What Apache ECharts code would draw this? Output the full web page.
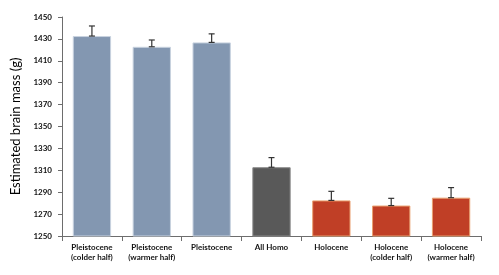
<!DOCTYPE html>
<html>
<head>
<meta charset="utf-8">
<script src="https://cdn.jsdelivr.net/npm/echarts@6/dist/echarts.min.js"></script>
<style>
  html, body { margin: 0; padding: 0; background: #fff; }
  #chart { width: 499px; height: 275px; }
</style>
</head>
<body>
<div id="chart"></div>
<script>
// categories and values
const categories = ['Pleistocene\n(colder half)', 'Pleistocene\n(warmer half)', 'Pleistocene', 'All Homo', 'Holocene', 'Holocene\n(colder half)', 'Holocene\n(warmer half)'];
const brainMass = [1432.6, 1422.8, 1426.8, 1312.8, 1282.5, 1277.8, 1285.0];
const errPlus = [9.2, 6.2, 7.8, 8.8, 8.3, 6.6, 9.2];
const groups = ['pleis', 'pleis', 'pleis', 'all', 'holo', 'holo', 'holo'];

const fills = { pleis: '#8397b1', all: '#595959', holo: '#c03f26' };
const borders = { pleis: '#c9d3e0', all: '#8a8a8a', holo: '#e9a070' };

const chart = echarts.init(document.getElementById('chart'));

const barData = brainMass.map(function (v, i) {
  return {
    value: v,
    itemStyle: { color: fills[groups[i]], borderColor: borders[groups[i]], borderWidth: 1 }
  };
});

const errData = brainMass.map(function (v, i) { return [i, v, v + errPlus[i]]; });

chart.setOption({
  animation: false,
  grid: { left: 62, right: 18, top: 17, bottom: 39 },
  xAxis: {
    type: 'category',
    data: categories,
    axisLine: { lineStyle: { color: '#6d6d6d', width: 1 } },
    axisTick: { show: true, length: 5, lineStyle: { color: '#6d6d6d' } },
    axisLabel: {
      color: '#111', fontSize: 8, fontWeight: 'bold', fontFamily: 'Lato',
      lineHeight: 10, margin: 6, interval: 0
    }
  },
  yAxis: {
    type: 'value',
    min: 1250, max: 1450, interval: 20,
    name: 'Estimated brain mass (g)',
    nameLocation: 'middle',
    nameGap: 37,
    nameTextStyle: { fontSize: 13, color: '#000', fontFamily: 'Lato' },
    axisLine: { show: true, lineStyle: { color: '#6d6d6d' } },
    axisTick: { show: true, length: 4, lineStyle: { color: '#6d6d6d' } },
    splitLine: { show: false },
    axisLabel: {
      color: '#111', fontSize: 8, fontWeight: 'bold', fontFamily: 'Lato', margin: 10,
      formatter: function (v) { return String(v); }
    }
  },
  series: [
    {
      type: 'bar',
      data: barData,
      barWidth: '64%'
    },
    {
      type: 'custom',
      data: errData,
      z: 10,
      renderItem: function (params, api) {
        const x = api.value(0);
        const lo = api.coord([x, api.value(1)]);
        const hi = api.coord([x, api.value(2)]);
        const cap = 3;
        const st = { stroke: '#333', lineWidth: 1.2 };
        return {
          type: 'group',
          children: [
            { type: 'line', shape: { x1: lo[0], y1: lo[1], x2: hi[0], y2: hi[1] }, style: st },
            { type: 'line', shape: { x1: hi[0] - cap, y1: hi[1], x2: hi[0] + cap, y2: hi[1] }, style: st },
            { type: 'line', shape: { x1: lo[0] - cap, y1: lo[1], x2: lo[0] + cap, y2: lo[1] }, style: st }
          ]
        };
      }
    }
  ]
});
</script>
</body>
</html>
